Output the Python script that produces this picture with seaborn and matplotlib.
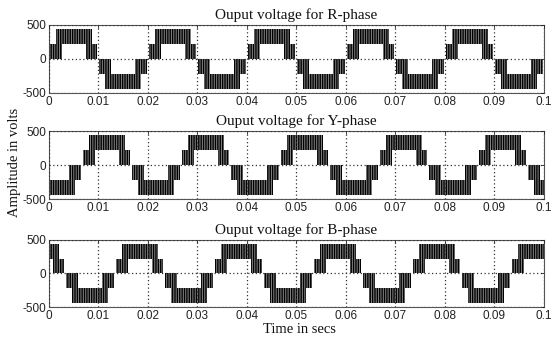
import numpy as np
import pandas as pd
import seaborn as sns
import matplotlib.pyplot as plt

# --- data ---
# one period of the R-phase waveform as PWM bands (start, end, low level, high level)
seg_start = [0.0002, 0.0074, 0.0014, 0.0102, 0.0174, 0.0114]
seg_end = [0.0026, 0.0098, 0.0086, 0.0126, 0.0198, 0.0186]
seg_low = [0, 0, 220, 0, 0, -220]
seg_high = [220, 220, 435, -220, -220, -435]

period = 0.02
phases = ["R", "Y", "B"]
phase_delay = [0.0, 0.00667, 0.01333]

x_ticks = [0, 0.01, 0.02, 0.03, 0.04, 0.05, 0.06, 0.07, 0.08, 0.09, 0.1]
x_ticklabels = ["0", "0.01", "0.02", "0.03", "0.04", "0.05", "0.06", "0.07", "0.08", "0.09", "0.1"]
y_ticks = [-500, 0, 500]

# build band table for all phases
rows = []
for phase, delay in zip(phases, phase_delay):
    for k in range(-1, 6):
        for s, e, lo, hi in zip(seg_start, seg_end, seg_low, seg_high):
            rows.append({
                "phase": phase,
                "start": s + delay + k * period,
                "end": e + delay + k * period,
                "low": lo,
                "high": hi,
            })
bands = pd.DataFrame(rows)

sns.set_style("white")
plt.rcParams["hatch.linewidth"] = 1.0
plt.rcParams["font.family"] = ["Liberation Serif", "DejaVu Serif"]

fig = plt.figure(figsize=(5.54, 3.41), dpi=100)

axes_pos = [
    [0.0884, 0.7273, 0.8935, 0.1994],
    [0.0884, 0.4164, 0.8935, 0.1994],
    [0.0884, 0.0997, 0.8935, 0.1965],
]

for phase, pos in zip(phases, axes_pos):
    ax = fig.add_axes(pos)
    sub = bands[bands["phase"] == phase]
    for _, row in sub.iterrows():
        ax.fill_between(
            [row["start"], row["end"]],
            row["low"],
            row["high"],
            facecolor="#858585",
            edgecolor="black",
            hatch="|||||||",
            linewidth=0,
        )
    ax.set_xlim(0, 0.1)
    ax.set_ylim(-500, 500)
    ax.set_xticks(x_ticks)
    ax.set_xticklabels(x_ticklabels, family=["Liberation Sans", "DejaVu Sans"], fontsize=8.5)
    ax.set_yticks(y_ticks)
    ax.set_yticklabels([str(v) for v in y_ticks], family=["Liberation Sans", "DejaVu Sans"], fontsize=8.5)
    ax.tick_params(direction="in", length=2, width=0.6, pad=2, colors="#222222",
                   top=True, right=True)
    ax.grid(True, linestyle=(0, (1, 2)), color="#333333", linewidth=0.9)
    ax.set_axisbelow(False)
    for sp in ax.spines.values():
        sp.set_color("#555555")
        sp.set_linewidth(0.8)
    ax.set_title(f"Ouput voltage for {phase}-phase", fontsize=11, pad=4, color="#111111")

fig.text(0.54, 0.034, "Time in secs", ha="center", va="center", fontsize=10.5, color="#111111")
fig.text(0.026, 0.525, "Amplitude in volts", ha="center", va="center", rotation=90,
         fontsize=10.5, color="#111111")

plt.savefig("out.png", dpi=100)
plt.close(fig)
